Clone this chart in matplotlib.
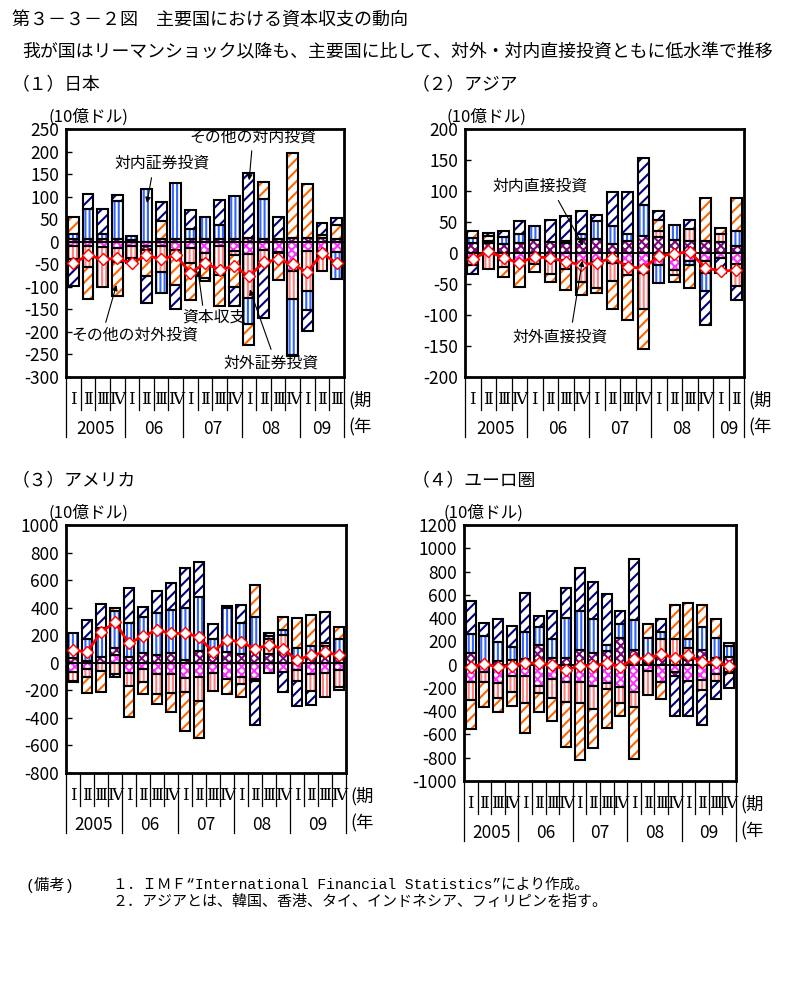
import numpy as np
import matplotlib
matplotlib.use("Agg")
import matplotlib.pyplot as plt

W, H = 794, 982

QUARTERS = ["Ⅰ", "Ⅱ", "Ⅲ", "Ⅳ"]
YEARS = ["2005", "06", "07", "08", "09"]

# --- data, 10億ドル ---------------------------------------------------------
# (1) Japan, 2005Q1-2009Q3
jp_out_di = [-10, -10, -12, -15, -10, -10, -10, -18, -15, -24, -10, -20, -28, -18, -22, -65, -20, -20, -23]
jp_in_di = [5, 5, 5, 5, 3, -8, 5, 7, 7, 7, 7, 5, 8, 7, 7, 8, 8, 8, 7]
jp_out_port = [-28, -45, -88, -30, -25, 0, -58, 0, -32, -16, -63, -10, -97, -26, 0, -63, -90, -45, 0]
jp_in_port = [13, 67, 13, 85, 10, 118, -45, 123, 21, 48, 30, 97, -57, 88, -4, -123, -41, 0, -59]
jp_out_other = [37, -73, 0, -75, 0, -58, 40, -77, -83, -40, -69, -70, -47, 38, -59, 188, 121, 8, 30]
jp_in_other = [-60, 33, 55, 14, -12, -60, 42, -55, 42, -8, 56, -43, 145, -126, 47, -3, -47, 26, 15]
jp_balance = [-48, -30, -39, -37, -48, -30, -39, -30, -69, -48, -62, -54, -77, -46, -39, -50, -68, -25, -48]

# (2) Asia, 2005Q1-2009Q2
as_out_di = [-8, 0, -11, -15, -8, -13, -12, -17, -15, -16, -18, -33, -20, -28, -13, -13, -8, -17]
as_in_di = [16, 16, 14, 16, 21, 18, 16, 23, 23, 15, 20, 27, 26, 21, 20, 20, 18, 12]
as_out_port = [-12, -25, -11, 0, -10, -21, -13, -30, -41, -29, -18, -58, 9, -8, 19, -19, 13, -36]
as_in_port = [9, 4, 12, 15, 23, 0, 3, 8, 29, 29, 11, 50, -29, 24, -7, -30, 0, 23]
as_out_other = [11, 8, -17, -40, -12, -12, -35, -21, -8, -46, -72, -64, 19, -10, -37, 68, 9, 54]
as_in_other = [-14, 5, 10, 21, 0, 36, 41, 36, 10, 55, 68, 77, 13, 0, 15, -54, -25, -23]
as_balance = [-10, 3, -8, -16, -6, -8, -14, -19, -16, -8, -22, -25, -5, -1, 2, -24, -29, -28]

# (3) USA, 2005Q1-2009Q4
us_out_di = [-65, -45, 0, 60, -77, -48, -82, -82, -114, -106, -75, -115, -100, -115, -75, -70, -50, -80, -75, -50]
us_in_di = [35, 10, 45, 45, 44, 68, 60, 73, 19, 85, 90, 80, 62, 105, 65, 80, 30, 45, 50, 35]
us_out_port = [-65, -55, -60, -80, -90, -95, -145, -136, -96, -170, -130, 0, -55, -15, 105, 125, -85, -125, -170, -125]
us_in_port = [183, 160, 210, 272, 246, 266, 303, 309, 375, 389, 85, 320, 230, 225, 25, 35, 80, 80, 75, 140]
us_out_other = [0, -120, -155, 23, -230, -84, -73, -142, -286, -273, 0, -115, -95, 235, 0, 90, 218, 225, 20, 85]
us_in_other = [-10, 140, 168, -25, 250, 68, 160, 194, 296, 259, 105, 15, 130, -320, 18, -140, -180, -100, 220, -20]
us_balance = [92, 78, 222, 295, 140, 194, 237, 213, 213, 189, 76, 168, 150, 102, 130, 102, 19, 56, 75, 56]

# (4) Euro area, 2005Q1-2009Q4
eu_out_di = [-146, -60, -160, -97, -97, -183, -126, -146, -146, -180, -160, -189, -232, -55, -150, -66, -138, -132, -80, -60]
eu_in_di = [103, 20, 34, 40, 52, 169, 60, 54, 126, 103, 120, 226, 126, 10, 83, -35, 40, 126, 54, 69]
eu_out_port = [-158, -92, -129, -135, -235, -57, -163, -172, -181, -201, -49, -143, -129, -210, 135, 221, 100, -86, -58, -15]
eu_in_port = [161, 226, 161, 115, 232, 158, 158, 350, 338, 287, 49, 124, 258, 220, 60, 0, 81, 201, 178, 91]
eu_out_other = [-252, -215, -115, -123, -258, -164, -192, -387, -492, -332, -338, -109, -450, 115, -145, 292, 306, 186, 158, 29]
eu_in_other = [286, 115, 195, 180, 329, 94, 243, 252, 364, 323, 438, 114, 524, 0, 112, -340, -303, -301, -160, -128]
eu_balance = [-17, 3, -17, -11, 17, 11, -3, -46, -9, -9, 11, -17, 49, 57, 89, 60, 83, 20, 20, -9]

# stacking order (nearest zero first) and look of each component
SERIES = ["out_di", "in_di", "out_port", "in_port", "out_other", "in_other"]
HATCH = {"out_di": "xxxx", "in_di": "xxxx", "out_port": "||||",
         "in_port": "||||", "out_other": "///", "in_other": "///"}
HCOLOR = {"out_di": "#FF33FF", "in_di": "#7A0A7A", "out_port": "#FF8080",
          "in_port": "#3366FF", "out_other": "#FF6600", "in_other": "#000080"}

plt.rcParams["font.family"] = ["Noto Sans CJK JP", "DejaVu Sans"]
plt.rcParams["axes.unicode_minus"] = False
plt.rcParams["hatch.linewidth"] = 1.5

ROMAN_FONT = ["DejaVu Serif", "Noto Sans CJK JP"]


def fxy(x, y):
    """Top-left pixel coords -> figure fraction."""
    return x / W, 1 - y / H


def panel(fig, rect, comps, balance, ylim, ystep, year_counts, unit_right):
    left, top, width, height = rect
    ax = fig.add_axes([left / W, 1 - (top + height) / H, width / W, height / H])
    n = len(balance)
    x = np.arange(n)
    pos = np.zeros(n)
    neg = np.zeros(n)
    bw = 0.74
    for key in SERIES:
        v = np.asarray(comps[key], float)
        bottom = np.where(v >= 0, pos, neg)
        m = v != 0
        ax.bar(x[m], v[m], bw, bottom=bottom[m], color="white",
               edgecolor=HCOLOR[key], hatch=HATCH[key], linewidth=0, zorder=2)
        ax.bar(x[m], v[m], bw, bottom=bottom[m], facecolor="none",
               edgecolor="black", linewidth=1.5, zorder=3)
        pos += np.where(v > 0, v, 0)
        neg += np.where(v < 0, v, 0)
    ax.axhline(0, color="black", lw=1.3, zorder=4)
    ax.plot(x, balance, color="#FF0000", lw=2, marker="D", ms=6,
            mfc="white", mec="#FF0000", mew=1.0, zorder=6)

    ax.set_xlim(-0.5, n - 0.5)
    ax.set_ylim(*ylim)
    ax.set_yticks(np.arange(ylim[0], ylim[1] + 1, ystep))
    ax.set_xticks([])
    ax.tick_params(axis="y", direction="in", length=4, width=1, labelsize=12.5, pad=5)
    for s in ax.spines.values():
        s.set_linewidth(2)

    # quarter / year labels under the frame
    tr = ax.get_xaxis_transform()
    f = lambda p: -p / height
    for i in range(n):
        ax.text(i, f(23), QUARTERS[i % 4], transform=tr, ha="center",
                va="center", fontsize=12, family=ROMAN_FONT)
    edges = np.cumsum([0] + list(year_counts))
    for i in range(n + 1):
        depth = 60 if i in edges else 33
        ax.plot([i - 0.5, i - 0.5], [0, f(depth)], transform=tr,
                color="black", lw=0.9, clip_on=False)
    for k, cnt in enumerate(year_counts):
        mid = edges[k] + cnt / 2 - 0.5
        ax.text(mid, f(52), YEARS[k], transform=tr, ha="center",
                va="center", fontsize=12.5)
    ax.text(*fxy(unit_right, top + height + 23), "(期", transform=fig.transFigure,
            va="center", fontsize=12.5)
    ax.text(*fxy(unit_right, top + height + 50), "(年", transform=fig.transFigure,
            va="center", fontsize=12.5)
    return ax


def comps(prefix):
    g = globals()
    return {k: g[prefix + "_" + k] for k in SERIES}


fig = plt.figure(figsize=(W / 100, H / 100), dpi=100)

fig.text(*fxy(12, 20), "第３－３－２図　主要国における資本収支の動向", fontsize=13, va="center")
fig.text(*fxy(22, 52), "我が国はリーマンショック以降も、主要国に比して、対外・対内直接投資ともに低水準で推移",
         fontsize=12.9, va="center")

for (xx, yy, t) in [(12, 84, "（１）日本"), (412, 84, "（２）アジア"),
                    (12, 480, "（３）アメリカ"), (412, 480, "（４）ユーロ圏")]:
    fig.text(*fxy(xx, yy), t, fontsize=12.8, va="center")
for (xx, yy) in [(48, 117), (446, 117), (48, 513), (443, 513)]:
    fig.text(*fxy(xx, yy), "(10億ドル)", fontsize=12, va="center")

ax1 = panel(fig, (66, 129, 278, 248), comps("jp"), jp_balance, (-300, 250), 50,
            [4, 4, 4, 4, 3], 348)
ax2 = panel(fig, (465, 129, 279, 248), comps("as"), as_balance, (-200, 200), 50,
            [4, 4, 4, 4, 2], 748)
ax3 = panel(fig, (66, 525, 280, 248), comps("us"), us_balance, (-800, 1000), 200,
            [4, 4, 4, 4, 4], 350)
ax4 = panel(fig, (464, 525, 272, 256), comps("eu"), eu_balance, (-1000, 1200), 200,
            [4, 4, 4, 4, 4], 740)

# call-outs
arrow = dict(arrowstyle="-|>", color="black", lw=0.8, mutation_scale=8)
callouts = [
    (ax1, "その他の対内投資", (253, 137), (252, 148), (12, 130)),
    (ax1, "対内証券投資", (162, 163), (152, 175), (5, 80)),
    (ax1, "その他の対外投資", (135, 335), (105, 325), (3, -90)),
    (ax1, "資本収支", (214, 317), (203, 308), (8.5, -58)),
    (ax1, "対外証券投資", (271, 363), (272, 352), (12, -100)),
    (ax2, "対内直接投資", (540, 186), (557, 198), (7.2, 8)),
    (ax2, "対外直接投資", (560, 337), (572, 325), (7.1, -8)),
]
for ax, label, tpos, start, target in callouts:
    ax.text(*fxy(*tpos), label, transform=fig.transFigure, ha="center",
            va="center", fontsize=11.4, zorder=10)
    ax.annotate("", xy=target, xycoords="data", xytext=fxy(*start),
                textcoords="figure fraction", arrowprops=arrow, zorder=10)

NOTE_FONT = ["Liberation Mono", "Noto Sans CJK JP"]
fig.text(*fxy(25, 885), "(備考)", fontsize=11, va="center", family=NOTE_FONT)
fig.text(*fxy(113, 885), "１．ＩＭＦ“International Financial Statistics”により作成。",
         fontsize=10.5, va="center", family=NOTE_FONT)
fig.text(*fxy(113, 902), "２．アジアとは、韓国、香港、タイ、インドネシア、フィリピンを指す。",
         fontsize=10.8, va="center")

fig.savefig("out.png", dpi=100)
